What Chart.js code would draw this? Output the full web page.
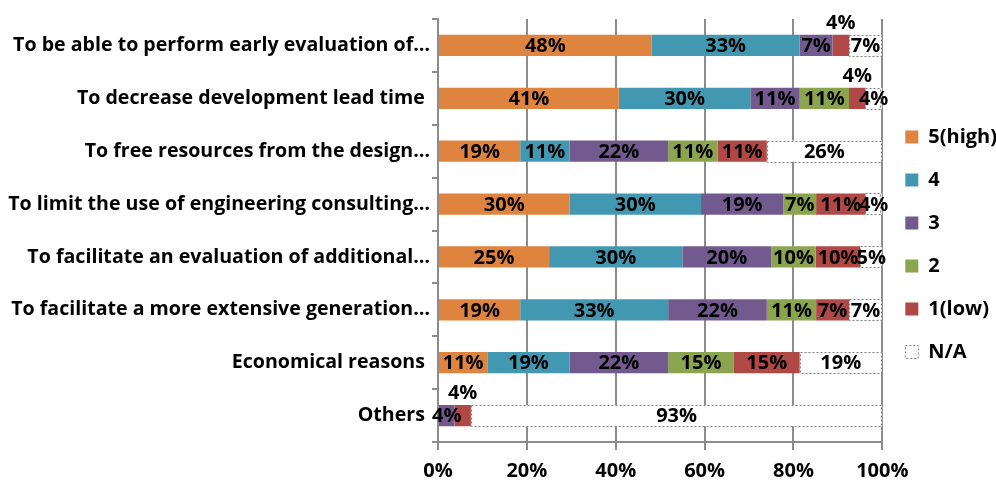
<!DOCTYPE html>
<html>
<head>
<meta charset="utf-8">
<script src="https://cdn.jsdelivr.net/npm/chart.js@4"></script>
<style>
	html, body { margin: 0; padding: 0; background: #fff; }
	#grafico-box { width: 996px; height: 484px; }
</style>
</head>
<body>
<div id="grafico-box"><canvas id="grafico"></canvas></div>
<script>
const categorias = [
	"To be able to perform early evaluation of…",
	"To decrease development lead time ",
	"To free resources from the design…",
	"To limit the use of engineering consulting…",
	"To facilitate an evaluation of additional…",
	"To facilitate a more extensive generation…",
	"Economical reasons ",
	"Others ",
];
const series = ["5(high)", "4", "3", "2", "1(low)", "N/A"];

// percent of answers per category
const alta5 = [48.1, 40.7, 18.5, 29.6, 25, 18.5, 11.1, 0];
const nivel4 = [33.3, 29.6, 11.1, 29.6, 30, 33.3, 18.5, 0];
const nivel3 = [7.4, 11.1, 22.2, 18.5, 20, 22.2, 22.2, 3.7];
const nivel2 = [0, 11.1, 11.1, 7.4, 10, 11.1, 14.8, 0];
const baja1 = [3.7, 3.7, 11.1, 11.1, 10, 7.4, 14.8, 3.7];
const noAplica = [7.4, 3.7, 25.9, 3.7, 5, 7.4, 18.5, 92.6];

const ticksX = ["0%", "20%", "40%", "60%", "80%", "100%"];

// labels written above the bar instead of inside: [category, serie]
const etiquetasArriba = [[0, 4], [1, 4], [7, 4]];

const colores = ["#DF843F", "#4298B0", "#725A8F", "#8AA54E", "#B04846", "#FFFFFF"];
const gris = "#8C8C8C";
const fuente = "'Open Sans', sans-serif";

/* Plugin: etiquetas de valor y borde punteado de N/A */
const etiquetas = {
	id: "etiquetas",
	afterDatasetsDraw(chart) {
		const ctx = chart.ctx;
		ctx.save();
		// dashed outline for the N/A bars
		const metaNA = chart.getDatasetMeta(5);
		ctx.strokeStyle = "#7F7F7F";
		ctx.lineWidth = 1;
		ctx.setLineDash([2, 2]);
		metaNA.data.forEach((el) => {
			const w = el.x - el.base;
			if (w <= 0) return;
			ctx.strokeRect(Math.round(el.base) + 0.5, Math.round(el.y - el.height / 2) + 0.5, Math.round(w) - 1, Math.round(el.height));
		});
		ctx.setLineDash([]);

		ctx.fillStyle = "#000";
		ctx.font = "bold 20px " + fuente;
		ctx.textAlign = "center";
		ctx.textBaseline = "middle";
		chart.data.datasets.forEach((ds, i) => {
			const meta = chart.getDatasetMeta(i);
			meta.data.forEach((el, j) => {
				const v = ds.data[j];
				if (!v) return;
				const arriba = etiquetasArriba.some((e) => e[0] == j && e[1] == i);
				const x = (el.x + el.base) / 2;
				const y = arriba ? el.y - 22 : el.y + 1;
				ctx.fillText(Math.round(v) + "%", x, y);
			});
		});
		ctx.restore();
	},
};

const datos = [alta5, nivel4, nivel3, nivel2, baja1, noAplica];

let config = {
	type: "bar",
	data: {
		labels: categorias,
		datasets: series.map((s, i) => ({
			label: s,
			data: datos[i],
			backgroundColor: colores[i],
			borderWidth: 0,
			barPercentage: 0.4,
			categoryPercentage: 1,
		})),
	},
	options: {
		indexAxis: "y",
		responsive: true,
		maintainAspectRatio: false,
		animation: false,
		layout: { padding: { top: 19, right: -11, bottom: 0, left: 0 } },
		scales: {
			x: {
				stacked: true,
				min: 0,
				max: 100,
				ticks: {
					stepSize: 20,
					padding: 9,
					color: "#000",
					font: { family: fuente, size: 20, weight: "bold" },
					callback: (v, i) => ticksX[i],
				},
				grid: { color: gris, lineWidth: 2, tickLength: 8 },
				border: { color: gris, width: 2 },
				afterFit(scale) {
					scale.height = 42;
				},
			},
			y: {
				stacked: true,
				ticks: {
					padding: 2,
					color: "#000",
					font: { family: fuente, size: 19.6, weight: "bold" },
				},
				grid: { color: gris, lineWidth: 2, tickLength: 6, drawOnChartArea: false, offset: true },
				border: { color: gris, width: 2 },
				afterFit(scale) {
					scale.width = 438;
				},
			},
		},
		plugins: {
			tooltip: { enabled: false },
			legend: {
				position: "right",
				fullSize: false,
				// empty title only used to push the items down a bit
				title: { display: true, text: "", padding: 8, font: { size: 10 } },
				labels: {
					boxWidth: 13,
					boxHeight: 13,
					padding: 23,
					color: "#000",
					font: { family: fuente, size: 20, weight: "bold" },
					generateLabels(chart) {
						const items = Chart.defaults.plugins.legend.labels.generateLabels(chart);
						items.forEach((it, i) => {
							it.lineWidth = 0;
							if (i == 5) {
								it.lineWidth = 1;
								it.strokeStyle = "#7F7F7F";
								it.lineDash = [2, 2];
							}
						});
						return items;
					},
				},
			},
		},
	},
	plugins: [etiquetas],
};

const plotRef = document.getElementById("grafico");
let chart = new Chart(plotRef, config);
</script>
</body>
</html>
